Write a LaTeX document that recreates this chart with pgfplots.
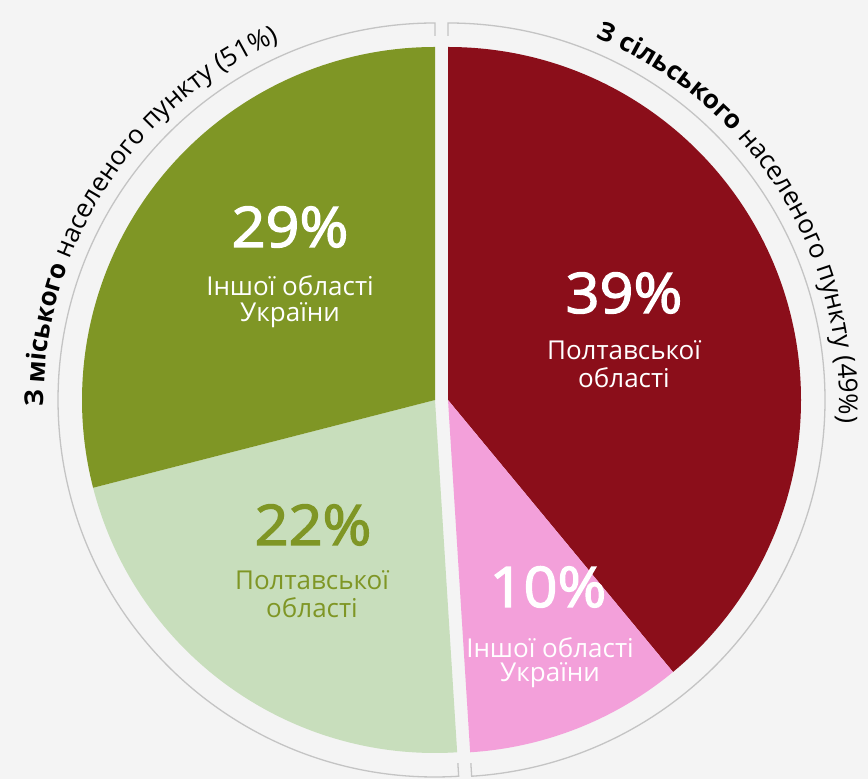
\documentclass[border=0pt]{standalone}
\usepackage{fontspec}
\setmainfont{Open Sans}
\newfontfamily\pctfont[FakeBold=2.4, FakeStretch=1.06]{Open Sans}
\usepackage{pgfplots}
\pgfplotsset{compat=1.18}
\usetikzlibrary{decorations.text}
\definecolor{bg}{RGB}{244,244,244}
\definecolor{cdark}{RGB}{127,150,37}
\definecolor{clight}{RGB}{200,222,188}
\definecolor{cred}{RGB}{139,14,26}
\definecolor{cpink}{RGB}{243,160,218}
\definecolor{carc}{RGB}{196,196,196}
\newcommand{\pct}[1]{\fontsize{56}{60}\pctfont #1}
\newcommand{\sm}[1]{\fontsize{26}{30}\selectfont #1}
\begin{document}
\begin{tikzpicture}
\begin{axis}[
    x=1pt, y=1pt, scale only axis,
    xmin=0, xmax=868, ymin=0, ymax=779,
    axis lines=none, clip=false,
]
\fill[bg] (axis cs:0,0) rectangle (axis cs:868,779);
% shares: 39, 10 (rural, 49%) | 22, 29 (urban, 51%); 1% = 3.6 deg
\fill[cred]   (axis cs:448,379) -- ++(90:353pt)    arc[start angle=90,    end angle=-50.4,  radius=353pt] -- cycle;
\fill[cpink]  (axis cs:448,379) -- ++(-50.4:353pt) arc[start angle=-50.4, end angle=-86.4,  radius=353pt] -- cycle;
\fill[clight] (axis cs:435,379) -- ++(-86.4:353pt) arc[start angle=-86.4, end angle=-165.6, radius=353pt] -- cycle;
\fill[cdark]  (axis cs:435,379) -- ++(-165.6:353pt) arc[start angle=-165.6, end angle=-270, radius=353pt] -- cycle;
% outer brackets
\draw[carc, line width=1.3pt] (axis cs:448,379) ++(90:364pt) -- ++(90:13pt)
    arc[start angle=90, end angle=-86.4, radius=377pt] -- ++(93.6:13pt);
\draw[carc, line width=1.3pt] (axis cs:435,379) ++(-86.4:364pt) -- ++(-86.4:13pt)
    arc[start angle=-86.4, end angle=-270, radius=377pt] -- ++(-90:13pt);
% curved titles
\path[decorate, decoration={text along path, text align=left,
    text={|\fontsize{26}{30}\selectfont\bfseries|З міського |\fontsize{26}{30}\selectfont\mdseries|населеного пункту (51{\%})}}]
    (axis cs:435,379) ++(181:391pt) arc[start angle=181, end angle=92, radius=391pt];
\path[decorate, decoration={text along path, text align=left,
    text={|\fontsize{26}{30}\selectfont\bfseries|З сільського |\fontsize{26}{30}\selectfont\mdseries|населеного пункту (49{\%})}}]
    (axis cs:448,379) ++(67.8:391pt) arc[start angle=67.8, end angle=-20, radius=391pt];
% slice labels
\node[white, anchor=base] at (axis cs:290,532) {\pct{29\%}};
\node[white, anchor=base] at (axis cs:290,483) {\sm{Іншої області}};
\node[white, anchor=base] at (axis cs:290,457) {\sm{України}};
\node[white, anchor=base] at (axis cs:624,466) {\pct{39\%}};
\node[white, anchor=base] at (axis cs:624,419) {\sm{Полтавської}};
\node[white, anchor=base] at (axis cs:624,391) {\sm{області}};
\node[cdark, anchor=base] at (axis cs:313,234) {\pct{22\%}};
\node[cdark, anchor=base] at (axis cs:312,189) {\sm{Полтавської}};
\node[cdark, anchor=base] at (axis cs:312,161) {\sm{області}};
\node[white, anchor=base] at (axis cs:548,172) {\pct{10\%}};
\node[white, anchor=base] at (axis cs:550,121) {\sm{Іншої області}};
\node[white, anchor=base] at (axis cs:550,97) {\sm{України}};
\end{axis}
\pgfresetboundingbox
\path (current axis.south west) rectangle (current axis.north east);
\end{tikzpicture}
\end{document}
